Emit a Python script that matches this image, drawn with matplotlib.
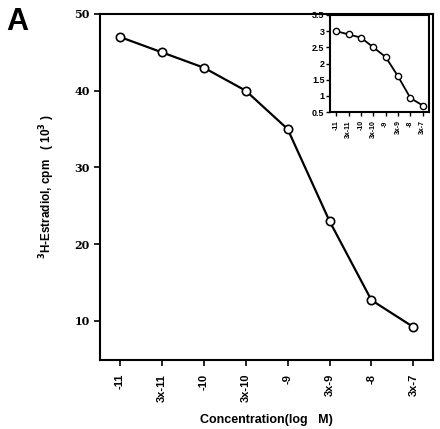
import matplotlib
matplotlib.use('Agg')
import matplotlib.pyplot as plt

# === Data ===
conc_labels = ['-11', '3x-11', '-10', '3x-10', '-9', '3x-9', '-8', '3x-7']
cpm_main = [47.0, 45.0, 43.0, 40.0, 35.0, 23.0, 12.7, 9.2]
cpm_inset = [3.0, 2.9, 2.8, 2.5, 2.2, 1.6, 0.93, 0.7]

plt.rcParams['font.family'] = ['Liberation Sans', 'DejaVu Sans']
plt.rcParams['font.weight'] = 'bold'

fig = plt.figure(figsize=(4.4, 4.29), dpi=100)
W, H = 440, 429

# --- main panel ---
ax = fig.add_axes([100 / W, 1 - 360 / H, 333 / W, 346 / H])
x = list(range(len(conc_labels)))
ax.plot(x, cpm_main, '-o', color='black', lw=1.6, ms=6,
        mfc='white', mec='black', mew=1.2)
ax.set_xlim(-0.48, 7.47)
ax.set_ylim(4.9, 50)
ax.set_yticks([10, 20, 30, 40, 50])
ax.set_xticks(x)
ax.set_xticklabels(conc_labels, rotation=90, fontsize=8, fontweight='bold')
ax.tick_params(axis='y', labelsize=8, direction='out', length=4, width=1.2)
ax.tick_params(axis='x', direction='out', length=4, width=1.2, pad=6)
for lab in ax.get_yticklabels():
    lab.set_fontweight('bold')
    lab.set_family('DejaVu Serif')
for s in ax.spines.values():
    s.set_linewidth(1.5)
ax.set_xlabel('Concentration(log   M)', fontsize=9, fontweight='bold', va='center')
ax.xaxis.set_label_coords(0.5, -0.173)
ax.set_ylabel(r'$^{3}$H-Estradiol, cpm   ( 10$^{3}$ )', fontsize=8.5,
              fontweight='bold', va='center')
ax.yaxis.set_label_coords(-0.16, 0.5)

fig.text(6 / W, 1 - 30 / H, 'A', fontsize=22, fontweight='bold')

# --- inset ---
axi = fig.add_axes([330 / W, 1 - 112 / H, 99 / W, 97 / H])
axi.plot(x, cpm_inset, '-o', color='black', lw=1.3, ms=4.5,
         mfc='white', mec='black', mew=1.0)
axi.set_xlim(-0.5, 7.5)
axi.set_ylim(0.5, 3.5)
axi.set_yticks([0.5, 1, 1.5, 2, 2.5, 3, 3.5])
axi.set_yticklabels(['0.5', '1', '1.5', '2', '2.5', '3', '3.5'])
axi.set_xticks(x)
axi.set_xticklabels(conc_labels, rotation=90, fontsize=5, fontweight='bold')
axi.tick_params(axis='y', labelsize=6.5, direction='out', length=3, width=1, pad=1)
axi.tick_params(axis='x', direction='out', length=3, width=1, pad=3)
for s in axi.spines.values():
    s.set_linewidth(1.5)

fig.savefig('out.png', dpi=100)
